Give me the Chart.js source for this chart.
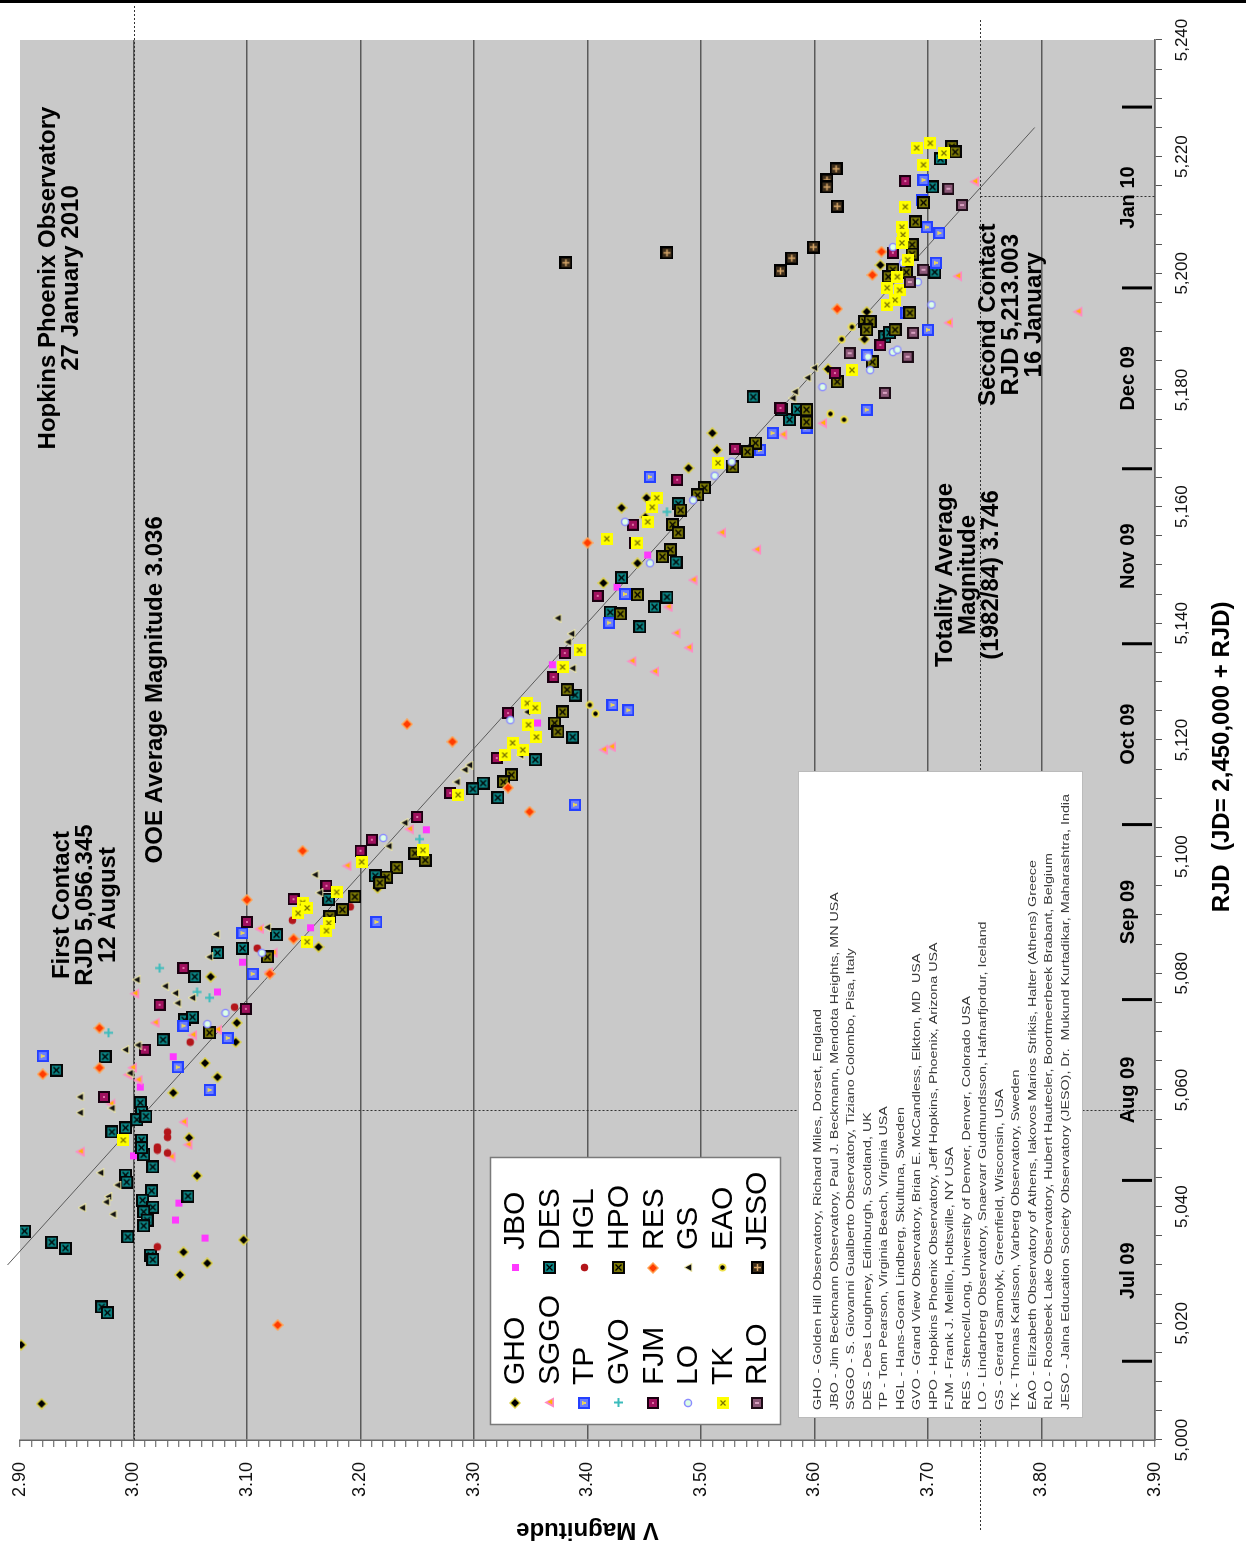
<!DOCTYPE html>
<html>
<head>
<meta charset="utf-8">
<title>V Magnitude vs RJD</title>
<script src="https://cdn.jsdelivr.net/npm/chart.js@4.4.1/dist/chart.umd.min.js"></script>
<style>
  html, body { margin: 0; padding: 0; overflow: hidden; background: #fff; width: 1246px; height: 1550px; }
  /* the chart is laid out landscape and turned a quarter turn counter-clockwise */
  #wrap { position: absolute; left: 0; top: 0; width: 1550px; height: 1246px;
          transform-origin: 0 0; transform: translateY(1550px) rotate(-90deg); }
  canvas { display: block; }
</style>
</head>
<body>
<div id="wrap"><canvas id="lightcurve" width="1550" height="1246"></canvas></div>
<script>
// ---- observations: [RJD, V magnitude] per observer ----
const GHO = [[5045.3,3.056],[5034.3,3.097],[5032.2,3.044],[5030.3,3.065],[5028.3,3.041],[5016.3,2.901],[5006.2,2.919],[5079.4,3.068],[5071.5,3.091],[5068.2,3.090],[5064.6,3.063],[5062.2,3.074],[5059.5,3.035],[5051.8,3.049],[5094.6,3.215],[5084.5,3.163],[5172.6,3.510],[5169.7,3.514],[5166.6,3.489],[5161.5,3.452],[5159.8,3.430],[5158.2,3.451],[5150.3,3.444],[5146.9,3.414],[5183.6,3.612],[5188.7,3.644],[5201.4,3.658],[5193.4,3.646],[5199.2,3.665]];
const JBO = [[5048.7,3.000],[5040.6,3.040],[5037.7,3.037],[5034.6,3.063],[5081.9,3.096],[5076.8,3.074],[5065.7,3.035],[5060.5,3.006],[5087.8,3.156],[5104.6,3.258],[5132.9,3.369],[5122.9,3.356],[5151.7,3.453],[5146.2,3.426]];
const SGGO = [[5049.4,2.953],[5048.5,3.033],[5076.5,3.001],[5071.5,3.019],[5069.4,3.052],[5063.8,2.999],[5062.6,2.995],[5061.7,3.004],[5057.6,2.980],[5054.5,3.044],[5050.6,3.048],[5087.6,3.111],[5083.5,3.123],[5080.2,3.119],[5070.3,3.074],[5098.4,3.188],[5104.7,3.243],[5155.5,3.518],[5152.6,3.549],[5147.4,3.493],[5142.8,3.471],[5174.3,3.607],[5172.3,3.572],[5215.7,3.741],[5199.5,3.726],[5191.5,3.718],[5193.4,3.832],[5118.3,3.414],[5118.8,3.421],[5133.5,3.439],[5131.7,3.459],[5138.3,3.478],[5135.8,3.489]];
const DES = [[5048.9,3.009],[5046.8,3.017],[5045.4,2.993],[5044.2,2.994],[5042.7,3.016],[5041.1,3.008],[5039.9,3.017],[5039.1,3.009],[5037.7,3.012],[5036.7,3.009],[5041.8,3.048],[5035.8,2.904],[5033.9,2.928],[5032.9,2.940],[5034.8,2.995],[5031.7,3.015],[5030.9,3.017],[5022.8,2.972],[5021.8,2.977],[5083.5,3.074],[5084.3,3.096],[5079.4,3.054],[5072.0,3.045],[5072.5,3.052],[5068.6,3.026],[5065.7,2.975],[5063.4,2.932],[5086.6,3.126],[5057.8,3.006],[5056.2,3.007],[5054.9,3.003],[5055.5,3.011],[5053.5,2.993],[5052.8,2.981],[5051.4,3.007],[5050.1,3.007],[5096.7,3.213],[5092.7,3.172],[5127.7,3.389],[5120.5,3.387],[5116.6,3.354],[5112.6,3.308],[5111.6,3.299],[5110.1,3.321],[5178.8,3.546],[5160.5,3.480],[5150.5,3.478],[5144.5,3.470],[5142.8,3.459],[5147.8,3.430],[5174.9,3.578],[5176.6,3.571],[5176.7,3.585],[5189.1,3.662],[5219.6,3.711],[5214.8,3.704],[5200.2,3.706],[5189.8,3.666],[5139.4,3.446],[5141.9,3.420]];
const TP = [[5086.9,3.096],[5079.9,3.105],[5071.0,3.044],[5068.9,3.083],[5063.9,3.039],[5060.0,3.067],[5065.8,2.920],[5088.8,3.214],[5165.1,3.455],[5145.0,3.433],[5169.7,3.552],[5172.6,3.563],[5173.5,3.593],[5176.6,3.646],[5186.0,3.646],[5216.0,3.696],[5212.6,3.695],[5207.9,3.699],[5206.9,3.710],[5201.8,3.707],[5190.3,3.700],[5193.2,3.681],[5108.9,3.389],[5125.1,3.436],[5126.0,3.422],[5140.1,3.419]];
const HGL = [[5033.1,3.021],[5049.7,3.021],[5049.2,3.030],[5084.3,3.109],[5074.2,3.089],[5068.2,3.050],[5052.8,3.030],[5051.9,3.030],[5050.2,3.021],[5091.4,3.191],[5089.1,3.140]];
const GVO = [[5080.9,3.023],[5076.8,3.056],[5075.8,3.067],[5069.8,2.978],[5103.0,3.252],[5159.1,3.470]];
const HPO = [[5082.8,3.118],[5069.8,3.067],[5100.6,3.248],[5098.1,3.232],[5096.5,3.223],[5095.5,3.217],[5093.1,3.195],[5090.9,3.184],[5089.7,3.173],[5099.4,3.257],[5128.6,3.382],[5124.8,3.378],[5122.9,3.371],[5121.4,3.374],[5114.0,3.333],[5112.8,3.326],[5170.9,3.548],[5169.4,3.541],[5166.8,3.528],[5163.2,3.503],[5162.0,3.497],[5159.4,3.482],[5156.9,3.475],[5155.5,3.480],[5152.6,3.473],[5151.4,3.466],[5144.9,3.444],[5176.6,3.593],[5174.5,3.593],[5181.4,3.620],[5191.7,3.644],[5184.8,3.651],[5200.6,3.669],[5221.7,3.721],[5220.8,3.724],[5212.1,3.696],[5208.8,3.689],[5204.9,3.686],[5203.3,3.686],[5200.2,3.681],[5199.4,3.665],[5191.7,3.649],[5193.2,3.684],[5190.3,3.671],[5190.3,3.646],[5141.6,3.429]];
const FJM = [[5080.9,3.044],[5074.6,3.023],[5066.9,3.010],[5058.8,2.974],[5088.8,3.100],[5073.9,3.099],[5106.8,3.250],[5102.9,3.210],[5101.0,3.200],[5095.0,3.170],[5092.7,3.141],[5134.9,3.380],[5130.8,3.370],[5124.6,3.330],[5116.9,3.320],[5110.9,3.279],[5169.9,3.530],[5164.6,3.479],[5156.9,3.440],[5153.8,3.442],[5144.7,3.409],[5176.9,3.570],[5182.9,3.618],[5187.7,3.658],[5215.8,3.680],[5203.5,3.669]];
const RES = [[5019.7,3.127],[5092.6,3.100],[5070.6,2.970],[5063.8,2.970],[5062.7,2.920],[5079.9,3.120],[5101.0,3.149],[5085.9,3.141],[5122.7,3.241],[5119.7,3.281],[5111.8,3.330],[5153.8,3.400],[5193.9,3.620],[5199.7,3.651],[5203.7,3.659],[5107.7,3.349]];
const LO = [[5083.5,3.113],[5073.2,3.081],[5071.3,3.065],[5103.2,3.220],[5123.4,3.332],[5165.3,3.512],[5161.1,3.493],[5157.4,3.433],[5150.3,3.455],[5167.7,3.527],[5180.5,3.607],[5183.4,3.649],[5186.5,3.669],[5194.6,3.703],[5204.5,3.669],[5201.8,3.678],[5198.5,3.691],[5186.9,3.673],[5185.7,3.647]];
const GS = [[5045.8,2.971],[5043.7,2.986],[5041.7,2.978],[5040.8,2.976],[5039.8,2.955],[5038.7,2.982],[5086.7,3.073],[5082.8,3.067],[5075.8,3.052],[5074.9,3.039],[5076.6,3.037],[5077.8,3.028],[5078.9,3.003],[5066.9,2.993],[5067.7,3.004],[5062.9,2.997],[5058.8,2.953],[5056.1,2.953],[5056.9,2.981],[5087.9,3.118],[5096.9,3.160],[5093.8,3.164],[5105.8,3.239],[5101.8,3.225],[5140.9,3.374],[5138.2,3.386],[5136.8,3.383],[5132.3,3.387],[5114.9,3.292],[5115.7,3.296],[5112.8,3.285],[5124.8,3.347],[5117.4,3.341],[5183.8,3.600],[5182.1,3.594],[5179.7,3.583],[5178.6,3.581]];
const TK = [[5051.4,2.991],[5099.1,3.201],[5093.9,3.179],[5092.1,3.149],[5090.3,3.145],[5091.2,3.153],[5088.6,3.172],[5087.3,3.170],[5085.4,3.153],[5101.1,3.255],[5132.5,3.378],[5135.4,3.393],[5126.3,3.347],[5125.5,3.354],[5122.6,3.348],[5120.5,3.355],[5119.5,3.334],[5117.4,3.327],[5118.3,3.343],[5110.6,3.286],[5167.5,3.515],[5161.5,3.461],[5159.9,3.457],[5157.4,3.453],[5154.5,3.417],[5153.8,3.444],[5183.4,3.633],[5197.5,3.664],[5221.5,3.690],[5222.3,3.702],[5220.6,3.714],[5218.6,3.696],[5211.4,3.680],[5207.9,3.677],[5206.6,3.678],[5205.2,3.677],[5199.4,3.673],[5197.1,3.675],[5195.4,3.671],[5194.6,3.664],[5202.3,3.682]];
const EAO = [[5175.9,3.614],[5174.9,3.626],[5190.8,3.633],[5188.7,3.624],[5126.0,3.402],[5124.5,3.407]];
const RLO = [[5186.3,3.631],[5179.5,3.662],[5214.5,3.718],[5211.7,3.730],[5200.6,3.696],[5198.5,3.684],[5189.8,3.687],[5185.7,3.682]];
const JESO = [[5201.8,3.381],[5203.5,3.470],[5202.6,3.580],[5200.4,3.570],[5204.5,3.599],[5217.9,3.619],[5216.0,3.611],[5214.8,3.611],[5211.5,3.620]];

const observerCodes = ['GHO','JBO','SGGO','DES','TP','HGL','GVO','HPO','FJM','RES','LO','GS','TK','EAO','RLO','JESO'];
const observerData = [GHO, JBO, SGGO, DES, TP, HGL, GVO, HPO, FJM, RES, LO, GS, TK, EAO, RLO, JESO];
const observerNotes = [
  'GHO - Golden Hill Observatory, Richard Miles, Dorset, England',
  'JBO - Jim Beckmann Observatory, Paul J. Beckmann, Mendota Heights, MN USA',
  'SGGO - S. Giovanni Gualberto Observatory, Tiziano Colombo, Pisa, Italy',
  'DES - Des Loughney, Edinburgh, Scotland, UK',
  'TP - Tom Pearson, Virginia Beach, Virginia USA',
  'HGL - Hans-Goran Lindberg, Skultuna, Sweden',
  'GVO - Grand View Observatory, Brian E. McCandless, Elkton, MD  USA',
  'HPO - Hopkins Phoenix Observatory, Jeff Hopkins, Phoenix, Arizona USA',
  'FJM - Frank J. Melillo, Holtsville, NY USA',
  'RES - Stencel/Long, University of Denver, Denver, Colorado USA',
  'LO - Lindarberg Observatory, Snaevarr Gudmundsson, Hafnarfjordur, Iceland',
  'GS - Gerard Samolyk, Greenfield, Wisconsin, USA',
  'TK - Thomas Karlsson, Varberg Observatory, Sweden',
  'EAO - Elizabeth Observatory of Athens, Iakovos Marios Strikis, Halter (Athens) Greece',
  'RLO - Roosbeek Lake Observatory, Hubert Hautecler, Boortmeerbeek Brabant, Belgium',
  'JESO - Jalna Education Society Observatory (JESO), Dr.  Mukund Kurtadikar, Maharashtra, India'
];

// fitted trend line end points
const trendRjd = [5030.0, 5225.0];
const trendMag = [2.889, 3.794];

// axes
const rjdMin = 5000, rjdMax = 5240, rjdMinorStep = 5, rjdLabelStep = 20;
const magMin = 2.90, magMax = 3.90, magMinorStep = 0.01;

// calendar months (RJD of the 1st of each month)
const monthStarts = [5013.5, 5044.5, 5075.5, 5105.5, 5136.5, 5166.5, 5197.5, 5228.5];
const monthNames = ['Jul 09', 'Aug 09', 'Sep 09', 'Oct 09', 'Nov 09', 'Dec 09', 'Jan 10'];

// reference lines
const referenceMag = 3.00;
const totalityMag = 3.746;
const firstContactRjd = 5056.345;
const secondContactRjd = 5213.003;

// ---- marker glyphs ----
function glyph(size, draw) {
  const c = document.createElement('canvas');
  c.width = size; c.height = size;
  draw(c.getContext('2d'), size / 2, size);
  return c;
}
function diamondPath(g, c, r) { g.beginPath(); g.moveTo(c, c - r); g.lineTo(c + r, c); g.lineTo(c, c + r); g.lineTo(c - r, c); g.closePath(); }
function triPath(g, c, r) { g.beginPath(); g.moveTo(c, c - r); g.lineTo(c + r, c + r * 0.85); g.lineTo(c - r, c + r * 0.85); g.closePath(); }
function framed(g, s, edge, inner, pad) { g.fillStyle = edge; g.fillRect(0, 0, s, s); g.fillStyle = inner; g.fillRect(pad, pad, s - 2 * pad, s - 2 * pad); }
function cross(g, s, col, w) { g.strokeStyle = col; g.lineWidth = w; g.beginPath(); g.moveTo(3.5, 3.5); g.lineTo(s - 3.5, s - 3.5); g.moveTo(s - 3.5, 3.5); g.lineTo(3.5, s - 3.5); g.stroke(); }

const glyphs = {
  GHO: glyph(12, (g, c) => { g.fillStyle = '#dcd040'; diamondPath(g, c, 6); g.fill(); g.fillStyle = '#000'; diamondPath(g, c, 4); g.fill(); }),
  JBO: glyph(9, (g) => { g.fillStyle = '#ff38ff'; g.fillRect(1, 1, 7, 7); }),
  SGGO: glyph(11, (g, c) => { g.fillStyle = '#ff8ac4'; triPath(g, c, 5.2); g.fill(); g.fillStyle = '#ffb400'; triPath(g, c + 0.6, 2.6); g.fill(); }),
  DES: glyph(13, (g, c, s) => { framed(g, s, '#050505', '#0b8585', 2); cross(g, s, '#000', 1.3); }),
  TP: glyph(12, (g, c, s) => { framed(g, s, '#2440ff', '#6a7dff', 2); g.fillStyle = '#e9d45a'; g.fillRect(5, 4, 2, 4); g.fillRect(4, 4, 4, 1.5); }),
  HGL: glyph(9, (g, c) => { g.fillStyle = '#b3151a'; g.beginPath(); g.arc(c, c, 3.8, 0, Math.PI * 2); g.fill(); }),
  GVO: glyph(11, (g, c) => { g.strokeStyle = '#3cbcbc'; g.lineWidth = 2; g.beginPath(); g.moveTo(c, 1); g.lineTo(c, 10); g.moveTo(1, c); g.lineTo(10, c); g.stroke(); }),
  HPO: glyph(13, (g, c, s) => { framed(g, s, '#050505', '#7d7a05', 2); cross(g, s, '#000', 1.3); }),
  FJM: glyph(12, (g, c, s) => { framed(g, s, '#1a0010', '#a0105e', 2); g.fillStyle = '#e070a8'; g.fillRect(5, 5, 2, 2); }),
  RES: glyph(12, (g, c) => { g.fillStyle = '#ffa050'; diamondPath(g, c, 6); g.fill(); g.fillStyle = '#ff3c00'; diamondPath(g, c, 4); g.fill(); }),
  LO: glyph(10, (g, c) => { g.fillStyle = '#dcffe6'; g.strokeStyle = '#8c8cff'; g.lineWidth = 1.5; g.beginPath(); g.arc(c, c, 3.6, 0, Math.PI * 2); g.fill(); g.stroke(); }),
  GS: glyph(9, (g, c) => { g.strokeStyle = '#ece6a6'; g.lineWidth = 2; triPath(g, c, 3.2); g.stroke(); g.fillStyle = '#111'; g.fill(); }),
  TK: glyph(12, (g, c, s) => { g.fillStyle = '#ffff00'; g.fillRect(0, 0, s, s); cross(g, s, '#7a7400', 1.2); }),
  EAO: glyph(9, (g, c) => { g.fillStyle = '#eee04a'; g.beginPath(); g.arc(c, c, 4, 0, Math.PI * 2); g.fill(); g.fillStyle = '#000'; g.beginPath(); g.arc(c, c, 2.2, 0, Math.PI * 2); g.fill(); }),
  RLO: glyph(12, (g, c, s) => { framed(g, s, '#1d0c16', '#8b5877', 2); g.fillStyle = '#d8a0c0'; g.fillRect(5, 4, 2, 4); }),
  JESO: glyph(13, (g, c, s) => { framed(g, s, '#000', '#3b2c1a', 2); g.strokeStyle = '#d9a86a'; g.lineWidth = 1.5; g.beginPath(); g.moveTo(c, 3); g.lineTo(c, s - 3); g.moveTo(3, c); g.lineTo(s - 3, c); g.stroke(); })
};

const FONT = '"Liberation Sans", Arial, Helvetica, sans-serif';

function fmtThousands(v) { return String(v).replace(/\B(?=(\d{3})+(?!\d))/g, ','); }
function isMajorMag(v) { return Math.round(v * 100) % 10 === 0; }
function seg(ctx, x1, y1, x2, y2) { ctx.beginPath(); ctx.moveTo(x1, y1); ctx.lineTo(x2, y2); ctx.stroke(); }

// annotation blocks: anchor (RJD, magnitude of first line), lines
const notes = [
  { rjd: 5199.2, mag: 2.925, lines: ['Hopkins Phoenix Observatory', '27 January 2010'] },
  { rjd: 5091.7, mag: 2.937, lines: ['First Contact', 'RJD 5,056.345', '12 August'] },
  { rjd: 5128.6, mag: 3.019, lines: ['OOE Average Magnitude 3.036'] },
  { rjd: 5148.3, mag: 3.715, lines: ['Totality Average', 'Magnitude', '(1982/84) 3.746'] },
  { rjd: 5192.9, mag: 3.753, lines: ['Second Contact', 'RJD 5,213.003', '16 January'] }
];

const decor = {
  id: 'decor',
  beforeDraw(chart) {
    const { ctx, chartArea: a, width, height } = chart;
    ctx.save();
    ctx.fillStyle = '#fff';
    ctx.fillRect(0, 0, width, height);
    ctx.fillStyle = '#c9c9c9';
    ctx.fillRect(a.left, a.top, a.right - a.left, a.bottom - a.top);
    ctx.restore();
  },
  beforeDatasetsDraw(chart) {
    const { ctx, chartArea: a, width } = chart;
    const xs = chart.scales.x, ys = chart.scales.y;
    ctx.save();
    ctx.strokeStyle = '#333';
    ctx.lineWidth = 1;
    ctx.setLineDash([2, 2]);
    const yRef = Math.round(ys.getPixelForValue(referenceMag)) + 0.5;
    seg(ctx, a.left, yRef, width - 4, yRef);
    const xFirst = Math.round(xs.getPixelForValue(firstContactRjd)) + 0.5;
    seg(ctx, xFirst, yRef, xFirst, a.bottom);
    const yTot = Math.round(ys.getPixelForValue(totalityMag)) + 0.5;
    seg(ctx, 20, yTot, width - 20, yTot);
    const xSecond = Math.round(xs.getPixelForValue(secondContactRjd)) + 0.5;
    seg(ctx, xSecond, yTot, xSecond, a.bottom);
    ctx.restore();
  },
  afterDraw(chart) {
    const { ctx, chartArea: a, width, height } = chart;
    const xs = chart.scales.x, ys = chart.scales.y;
    ctx.save();

    // rule along the outer edge
    ctx.fillStyle = '#000';
    ctx.fillRect(width - 3, 0, 3, height);

    // month boundaries and names
    ctx.strokeStyle = '#000';
    ctx.lineWidth = 3;
    monthStarts.forEach(r => {
      const x = xs.getPixelForValue(r);
      seg(ctx, x, a.bottom - 33, x, a.bottom - 3);
    });
    ctx.fillStyle = '#000';
    ctx.font = 'bold 20px ' + FONT;
    ctx.textAlign = 'center';
    ctx.textBaseline = 'middle';
    monthNames.forEach((m, i) => {
      const x = xs.getPixelForValue((monthStarts[i] + monthStarts[i + 1]) / 2);
      ctx.fillText(m, x, a.bottom - 27);
    });

    // annotation blocks
    ctx.font = 'bold 24px ' + FONT;
    notes.forEach(n => {
      const x = xs.getPixelForValue(n.rjd);
      const y0 = ys.getPixelForValue(n.mag);
      n.lines.forEach((t, i) => ctx.fillText(t, x, y0 + i * 23));
    });

    // axis titles
    ctx.font = 'bold 24px ' + FONT;
    ctx.fillText('RJD  (JD= 2,450,000 + RJD)', xs.getPixelForValue(5117.1), a.bottom + 67);
    ctx.save();
    ctx.translate(20, (a.top + a.bottom) / 2);
    ctx.rotate(-Math.PI / 2);
    ctx.fillText('V Magnitude', 0, 0);
    ctx.restore();

    // legend
    const lx = a.left + 15, ly = 490, lw = 267, lh = 290;
    ctx.fillStyle = '#fff';
    ctx.fillRect(lx, ly, lw, lh);
    ctx.strokeStyle = '#7a7a7a';
    ctx.lineWidth = 1.5;
    ctx.strokeRect(lx + 0.5, ly + 0.5, lw, lh);
    ctx.font = '30px ' + FONT;
    ctx.textAlign = 'left';
    ctx.fillStyle = '#000';
    observerCodes.forEach((code, i) => {
      const row = Math.floor(i / 2), col = i % 2;
      const y = ly + 25 + row * 34.6;
      const mx = lx + (col === 0 ? 22 : 157);
      const g = glyphs[code];
      ctx.drawImage(g, Math.round(mx - g.width / 2), Math.round(y - g.height / 2));
      ctx.fillText(code, mx + 18, y + 1);
    });

    // observer list (type stretched along the line, as in the printed key)
    const bx = a.left + 22, by = 798, bw = 646, bh = 284;
    ctx.fillStyle = '#fff';
    ctx.fillRect(bx, by, bw, bh);
    ctx.strokeStyle = '#bbb';
    ctx.lineWidth = 1;
    ctx.strokeRect(bx + 0.5, by + 0.5, bw, bh);
    ctx.fillStyle = '#3a3a3a';
    ctx.font = '11px ' + FONT;
    observerNotes.forEach((t, i) => {
      ctx.save();
      ctx.translate(bx + 8, by + 20 + i * 16.5);
      ctx.scale(1.3, 1);
      ctx.fillText(t, 0, 0);
      ctx.restore();
    });

    ctx.restore();
  }
};

const datasets = [{
  type: 'line',
  label: 'trend',
  data: trendRjd.map((r, i) => ({ x: r, y: trendMag[i] })),
  borderColor: '#5a5a5a',
  borderWidth: 1,
  pointRadius: 0,
  showLine: true,
  fill: false,
  clip: false,
  order: 200
}].concat(observerCodes.map((code, i) => ({
  label: code,
  data: observerData[i].map(p => ({ x: p[0], y: p[1] })),
  pointStyle: glyphs[code],
  pointRadius: 5,
  showLine: false,
  order: 100 - i
})));

new Chart(document.getElementById('lightcurve'), {
  type: 'scatter',
  data: { datasets },
  plugins: [decor],
  options: {
    responsive: false,
    devicePixelRatio: 1,
    animation: false,
    events: [],
    layout: { padding: { left: 20, right: 40, top: 20, bottom: 20 } },
    plugins: { legend: { display: false }, tooltip: { enabled: false } },
    scales: {
      x: {
        type: 'linear',
        position: 'bottom',
        min: rjdMin,
        max: rjdMax,
        afterFit: s => { s.height = 71; s.paddingLeft = 0; s.paddingRight = 0; },
        border: { display: true, color: '#666', width: 1.5 },
        grid: { drawOnChartArea: false, drawTicks: true, tickLength: 7, tickColor: '#555', tickWidth: 1 },
        ticks: {
          stepSize: rjdMinorStep,
          autoSkip: false,
          maxRotation: 0,
          minRotation: 0,
          padding: 10,
          color: '#111',
          font: { family: FONT, size: 17 },
          callback: v => (v % rjdLabelStep === 0 ? fmtThousands(v) : '')
        }
      },
      y: {
        type: 'linear',
        reverse: true,
        min: magMin,
        max: magMax,
        afterFit: s => { s.width = 90; s.paddingTop = 0; s.paddingBottom = 0; },
        border: { display: true, color: '#666', width: 1.5 },
        grid: {
          drawTicks: true,
          tickLength: 7,
          tickColor: '#555',
          tickWidth: 1,
          lineWidth: 1.5,
          color: c => {
            const k = Math.round(c.tick.value * 100);
            return (k % 10 === 0 && k !== 290) ? '#5a5a5a' : 'rgba(0,0,0,0)';
          }
        },
        ticks: {
          stepSize: magMinorStep,
          autoSkip: false,
          padding: 15,
          color: '#111',
          font: { family: FONT, size: 18 },
          callback: v => (isMajorMag(v) ? v.toFixed(2) : '')
        }
      }
    }
  }
});
</script>
</body>
</html>
